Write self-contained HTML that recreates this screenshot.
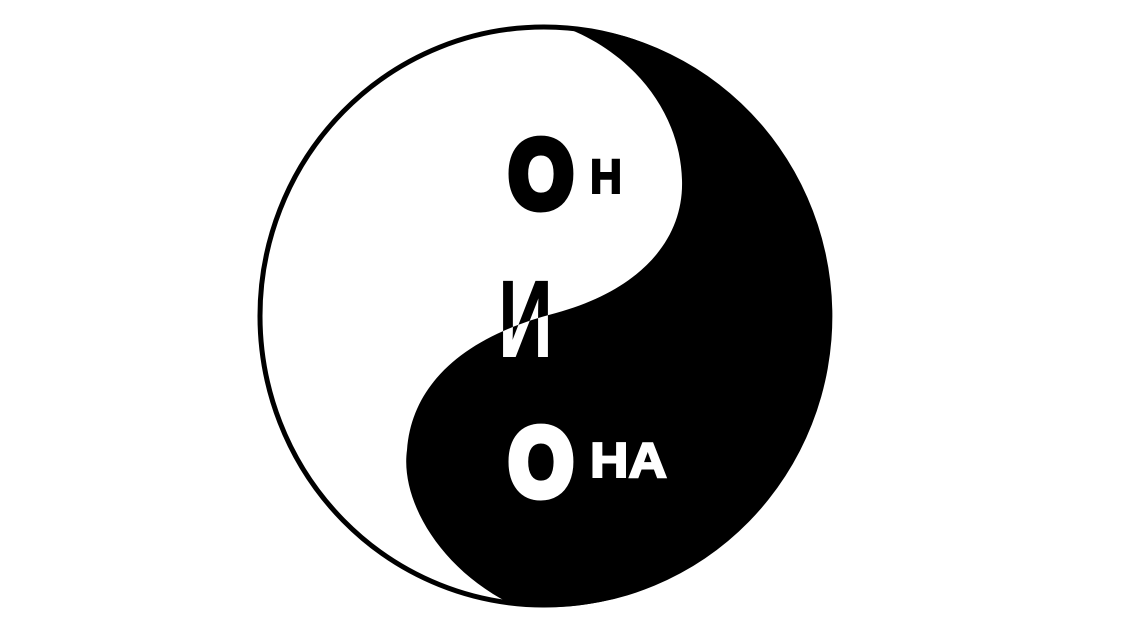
<!DOCTYPE html>
<html><head><meta charset="utf-8"><style>
html,body{margin:0;padding:0;background:#fff;width:1124px;height:632px;overflow:hidden}
svg{display:block}
text{font-family:"Liberation Sans",sans-serif;font-weight:bold}
</style></head><body>
<svg width="1124" height="632" viewBox="0 0 1124 632" xmlns="http://www.w3.org/2000/svg">
<defs>
<clipPath id="blk"><path d="M560,25.6 A286,291 0 1 1 514,605.4 C440,570 400,500 407,450 C412,380 470,335 556,313 C640,290 684,240 682,180 C680,110 630,50 560,25.6 Z"/></clipPath>
</defs>
<ellipse cx="544" cy="316" rx="286" ry="291" fill="#fff"/>
<path d="M560,25.6 A286,291 0 1 1 514,605.4 C440,570 400,500 407,450 C412,380 470,335 556,313 C640,290 684,240 682,180 C680,110 630,50 560,25.6 Z" fill="#000"/>
<ellipse cx="544" cy="316" rx="284" ry="289" fill="none" stroke="#000" stroke-width="5"/>
<g fill="#000" stroke="#000">
<text x="509" y="207" font-size="96" textLength="64" lengthAdjust="spacingAndGlyphs" stroke-width="9">О</text>
<text x="590" y="193" font-size="48" textLength="32" lengthAdjust="spacingAndGlyphs" stroke-width="2">Н</text>
<text x="498" y="357" font-size="110" textLength="55" lengthAdjust="spacingAndGlyphs" stroke-width="0">И</text>
</g>
<g fill="#fff" stroke="#fff" clip-path="url(#blk)">
<text x="509" y="207" font-size="96" textLength="64" lengthAdjust="spacingAndGlyphs" stroke-width="9">О</text>
<text x="498" y="357" font-size="110" textLength="55" lengthAdjust="spacingAndGlyphs" stroke-width="0">И</text>
<text x="509" y="495" font-size="96" textLength="64" lengthAdjust="spacingAndGlyphs" stroke-width="9">О</text>
<text x="590" y="477" font-size="49" textLength="77" lengthAdjust="spacingAndGlyphs" stroke-width="2">НА</text>
</g>
</svg>
</body></html>
